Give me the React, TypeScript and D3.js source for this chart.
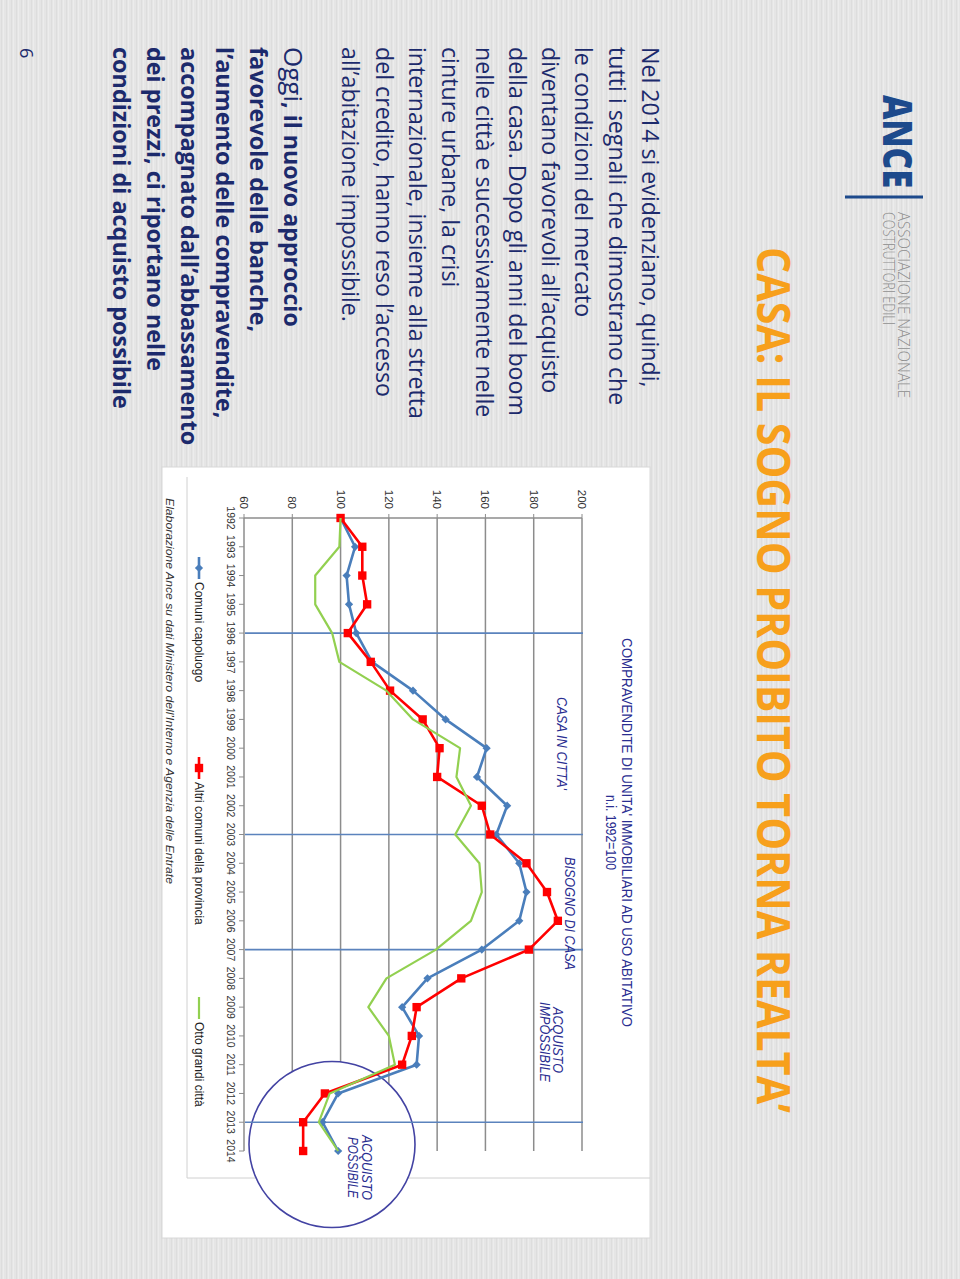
import React from "react";
import * as d3 from "d3";

// categorie (anni) e serie, n.i. 1992=100
const years = [
  "1992", "1993", "1994", "1995", "1996", "1997", "1998", "1999", "2000", "2001", "2002",
  "2003", "2004", "2005", "2006", "2007", "2008", "2009", "2010", "2011", "2012", "2013", "2014",
];
const comuniCapoluogo = [
  100, 106, 102.5, 103.5, 106.5, 113, 130, 143.5, 160.5, 156.5, 169,
  164.5, 174, 177, 174, 158.5, 136, 125.5, 132.5, 131.5, 99, 92.5, 99,
];
const altriComuni = [
  100, 109, 109, 111, 103, 112.5, 120.5, 134, 141, 140, 158.5,
  162, 177, 185.5, 190, 178, 150, 131.5, 129.5, 125.5, 93.5, 84.5, 84.5,
];
const ottoGrandiCitta = [
  100, 99.5, 89.5, 89.5, 96.5, 99.5, 119, 130, 149.5, 148, 154,
  147.5, 157.5, 158.5, 154, 139.5, 119, 111.5, 120, 122.5, 95.5, 91, 99,
];
const valueTicks = [60, 80, 100, 120, 140, 160, 180, 200];
const phaseYears = ["1996", "2003", "2007", "2013"];

const paragraph1 = [
  "Nel 2014 si evidenziano, quindi,",
  "tutti i segnali che dimostrano che",
  "le condizioni del mercato",
  "diventano favorevoli all’acquisto",
  "della casa. Dopo gli anni del boom",
  "nelle città e successivamente nelle",
  "cinture urbane, la crisi",
  "internazionale, insieme alla stretta",
  "del credito, hanno reso l’accesso",
  "all’abitazione impossibile.",
];
const paragraph2 = [
  "favorevole delle banche,",
  "l’aumento delle compravendite,",
  "accompagnato dall’abbassamento",
  "dei prezzi, ci riportano nelle",
  "condizioni di acquisto possibile",
];

const W = 960;
const H = 1279;
const NAVY = "#1c2a6c";
const LABEL = "#2a2e91";
const SANS = "'Open Sans', 'Noto Sans', sans-serif";
const ARIAL = "'Liberation Sans', Arial, sans-serif";

export default function App() {
  // coordinate della slide non ruotata (1279 x 960), poi ruotata di 90°
  const x = d3.scalePoint<string>().domain(years).range([518, 1151]);
  const y = d3.scaleLinear().domain([60, 200]).range([716, 378]);
  const line = d3
    .line<number>()
    .x((_, i) => x(years[i])!)
    .y((d) => y(d));

  const diamond = d3.symbol(d3.symbolSquare, 34)()!;
  const square = d3.symbol(d3.symbolSquare, 70)()!;

  const series = [
    { name: "Comuni capoluogo", data: comuniCapoluogo, color: "#4a7ebb", width: 2.6, marker: "diamond", lx: 557 },
    { name: "Altri comuni della provincia", data: altriComuni, color: "#ff0000", width: 2.6, marker: "square", lx: 757 },
    { name: "Otto grandi città", data: ottoGrandiCitta, color: "#92d050", width: 2.2, marker: "none", lx: 997 },
  ];

  const marker = (m: string, color: string, cx: number, cy: number, key: React.Key) =>
    m === "diamond" ? (
      <path key={key} d={diamond} transform={`translate(${cx},${cy}) rotate(45)`} fill={color} />
    ) : m === "square" ? (
      <path key={key} d={square} transform={`translate(${cx},${cy})`} fill={color} />
    ) : null;

  return (
    <svg width={W} height={H} style={{ position: "absolute", left: 0, top: 0 }}>
      <defs>
        <pattern id="carta" width="5" height="40" patternUnits="userSpaceOnUse">
          <rect width="5" height="40" fill="#e5e5e5" />
          <rect x="1" width="1" height="40" fill="#dddddd" />
          <rect x="3" width="1" height="40" fill="#ececec" />
        </pattern>
      </defs>
      <rect width={W} height={H} fill="url(#carta)" />

      <g transform={`translate(${W},0) rotate(90)`}>
        {/* intestazione */}
        <text x={95} y={77} fontFamily={SANS} fontWeight={800} fontSize={40} fill="#1d4a8c"
          textLength={93} lengthAdjust="spacingAndGlyphs">ANCE</text>
        <line x1={197} x2={197} y1={37} y2={115} stroke="#1d4a8c" strokeWidth={3} />
        <text x={212} y={62} fontFamily={SANS} fontWeight={300} fontSize={17} fill="#8d8d8d"
          textLength={186} lengthAdjust="spacingAndGlyphs">ASSOCIAZIONE NAZIONALE</text>
        <text x={212} y={77} fontFamily={SANS} fontWeight={300} fontSize={17} fill="#8d8d8d"
          textLength={113} lengthAdjust="spacingAndGlyphs">COSTRUTTORI EDILI</text>
        <text x={247} y={203} fontFamily={SANS} fontWeight={700} fontSize={46} fill="#f7a01c"
          textLength={866} lengthAdjust="spacingAndGlyphs">CASA: IL SOGNO PROIBITO TORNA REALTA’</text>

        {/* testo a sinistra */}
        {paragraph1.map((t, i) => (
          <text key={t} x={47} y={318 + i * 33.3} fontFamily={SANS} fontSize={23.2} fill={NAVY}>{t}</text>
        ))}
        <text x={47} y={676} fontFamily={SANS} fontSize={23.2} fill={NAVY}>
          <tspan fontSize={26}>Oggi</tspan>
          <tspan fontWeight={700}>, il nuovo approccio</tspan>
        </text>
        {paragraph2.map((t, i) => (
          <text key={t} x={47} y={710 + i * 34.3} fontFamily={SANS} fontWeight={700} fontSize={23.4} fill={NAVY}>{t}</text>
        ))}
        <text x={48} y={940} fontFamily={SANS} fontSize={18} fill={NAVY}>6</text>

        {/* riquadro del grafico */}
        <rect x={467} y={310} width={771} height={488} fill="#ffffff" stroke="#d8d8d8" />
        <line x1={477} x2={1178} y1={773} y2={773} stroke="#d0d0d0" />
        <line x1={1178} x2={1178} y1={310} y2={773} stroke="#d0d0d0" />

        {/* griglia */}
        {valueTicks.slice(1).map((v) => (
          <line key={v} x1={x("1992")} x2={x("2014")} y1={y(v)} y2={y(v)} stroke="#8c8c8c" strokeWidth={1.5} />
        ))}

        <circle cx={1144.5} cy={628} r={83} fill="#ffffff" stroke="#4343a3" strokeWidth={1.6} />

        {/* assi */}
        <line x1={x("1992")} x2={x("2014")} y1={y(60)} y2={y(60)} stroke="#8c8c8c" strokeWidth={1.5} />
        <line x1={x("1992")} x2={x("1992")} y1={y(60)} y2={y(200)} stroke="#8c8c8c" strokeWidth={1.5} />
        {valueTicks.map((v) => (
          <g key={v}>
            <line x1={x("1992")! - 4} x2={x("1992")} y1={y(v)} y2={y(v)} stroke="#8c8c8c" />
            <text x={509} y={y(v)} dy="0.35em" textAnchor="end" fontFamily={ARIAL} fontSize={11.5} fill="#333">{v}</text>
          </g>
        ))}
        {years.map((yr) => (
          <g key={yr}>
            <line x1={x(yr)} x2={x(yr)} y1={y(60)} y2={y(60) + 5} stroke="#8c8c8c" />
            <text x={x(yr)} y={733} textAnchor="middle" fontFamily={ARIAL} fontSize={10.5} fill="#333">{yr}</text>
          </g>
        ))}

        {/* fasi del mercato */}
        {phaseYears.map((yr) => (
          <line key={yr} x1={x(yr)} x2={x(yr)} y1={y(60) - 1} y2={y(200) - 1} stroke="#5b83bd" strokeWidth={1.6} />
        ))}

        {/* serie */}
        {series.map((s) => (
          <g key={s.name}>
            <path d={line(s.data)!} fill="none" stroke={s.color} strokeWidth={s.width} strokeLinejoin="round" />
            {s.data.map((d, i) => marker(s.marker, s.color, x(years[i])!, y(d), i))}
          </g>
        ))}

        {/* legenda */}
        {series.map((s) => (
          <g key={s.name}>
            <line x1={s.lx} x2={s.lx + 22} y1={761} y2={761} stroke={s.color} strokeWidth={s.width} />
            {marker(s.marker, s.color, s.lx + 11, 761, "m")}
            <text x={s.lx + 25} y={765} fontFamily={ARIAL} fontSize={12} fill="#222">{s.name}</text>
          </g>
        ))}
        <text x={498} y={794} fontFamily={ARIAL} fontStyle="italic" fontSize={11.5} fill="#333"
          textLength={386} lengthAdjust="spacingAndGlyphs">
          Elaborazione Ance su dati Ministero dell’Interno e Agenzia delle Entrate
        </text>

        {/* etichette del grafico */}
        <text x={638} y={338} fontFamily={ARIAL} fontSize={14} fill={LABEL}
          textLength={389} lengthAdjust="spacingAndGlyphs">COMPRAVENDITE DI UNITA' IMMOBILIARI AD USO ABITATIVO</text>
        <text x={795} y={354} fontFamily={ARIAL} fontSize={14} fill={LABEL}
          textLength={75} lengthAdjust="spacingAndGlyphs">n.i. 1992=100</text>
        <text x={697} y={403} fontFamily={ARIAL} fontStyle="italic" fontSize={14} fill={LABEL}
          textLength={93} lengthAdjust="spacingAndGlyphs">CASA IN CITTA'</text>
        <text x={857} y={395} fontFamily={ARIAL} fontStyle="italic" fontSize={14} fill={LABEL}
          textLength={113} lengthAdjust="spacingAndGlyphs">BISOGNO DI CASA</text>
        <text x={1007} y={407} fontFamily={ARIAL} fontStyle="italic" fontSize={14} fill={LABEL}
          textLength={66} lengthAdjust="spacingAndGlyphs">ACQUISTO</text>
        <text x={1002} y={420} fontFamily={ARIAL} fontStyle="italic" fontSize={14} fill={LABEL}
          textLength={80} lengthAdjust="spacingAndGlyphs">IMPOSSIBILE</text>
        <text x={1135} y={598} fontFamily={ARIAL} fontStyle="italic" fontSize={14} fill={LABEL}
          textLength={65} lengthAdjust="spacingAndGlyphs">ACQUISTO</text>
        <text x={1137} y={612} fontFamily={ARIAL} fontStyle="italic" fontSize={14} fill={LABEL}
          textLength={61} lengthAdjust="spacingAndGlyphs">POSSIBILE</text>
      </g>
    </svg>
  );
}
